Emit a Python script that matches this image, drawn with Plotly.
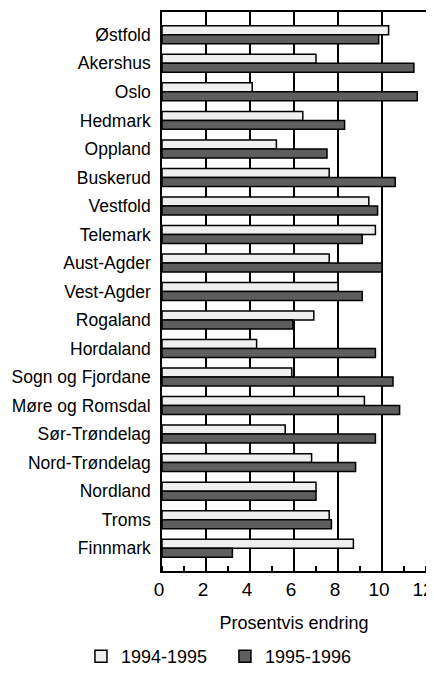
import plotly.graph_objects as go

fylker = ["Østfold", "Akershus", "Oslo", "Hedmark", "Oppland", "Buskerud", "Vestfold",
          "Telemark", "Aust-Agder", "Vest-Agder", "Rogaland", "Hordaland", "Sogn og Fjordane",
          "Møre og Romsdal", "Sør-Trøndelag", "Nord-Trøndelag", "Nordland", "Troms", "Finnmark"]
endring_94_95 = [10.3, 7.0, 4.1, 6.4, 5.2, 7.6, 9.4, 9.7, 7.6, 8.0, 6.9, 4.3, 5.9,
                 9.2, 5.6, 6.8, 7.0, 7.6, 8.7]
endring_95_96 = [9.85, 11.45, 11.6, 8.3, 7.5, 10.6, 9.8, 9.1, 10.0, 9.1, 5.95, 9.7, 10.5,
                 10.8, 9.7, 8.8, 7.0, 7.7, 3.2]
serie_navn = ["1994-1995", "1995-1996"]
x_ticks = [0, 2, 4, 6, 8, 10, 12]

FONT = "Liberation Sans, Arial, sans-serif"

fig = go.Figure()
fig.add_trace(go.Bar(y=fylker, x=endring_94_95, orientation="h", name=serie_navn[0],
                     marker=dict(color="#efefef", line=dict(color="black", width=1.5))))
fig.add_trace(go.Bar(y=fylker, x=endring_95_96, orientation="h", name=serie_navn[1],
                     marker=dict(color="#5e5e5e", line=dict(color="black", width=1.5))))

# page body has an 8px default margin, so the figure is sized to fit the 434x675 window
fig.update_layout(
    width=426, height=659,
    margin=dict(l=154, r=8, t=4, b=96, autoexpand=False),
    paper_bgcolor="white", plot_bgcolor="white",
    barmode="group", bargap=0.37, bargroupgap=0,
    font=dict(family=FONT, size=18, color="black"),
    showlegend=True,
    legend=dict(orientation="h", x=-0.307, xanchor="left", y=-0.12, yanchor="top",
                traceorder="normal", font=dict(size=18),
                entrywidth=99, entrywidthmode="pixels",
                bgcolor="rgba(0,0,0,0)"),
)
fig.update_xaxes(
    range=[0, 12], tickvals=x_ticks, ticktext=[str(v) for v in x_ticks],
    showgrid=True, gridcolor="black", gridwidth=1.5, zeroline=False,
    showline=True, mirror=True, linecolor="black", linewidth=1.5,
    ticks="", tickfont=dict(size=19), automargin=False, ticklabeloverflow="allow",
    ticklabelshift=-3,
    minor=dict(dtick=1, ticks="inside", ticklen=5, tickcolor="black", tickwidth=1.5, showgrid=False),
    title=dict(text="Prosentvis endring", font=dict(size=18), standoff=18),
)
fig.update_yaxes(
    type="category", categoryorder="array", categoryarray=fylker,
    range=[18.8, -0.8], showgrid=False, zeroline=False, automargin=False,
    showline=True, mirror=True, linecolor="black", linewidth=1.5,
    ticks="", ticklabelstandoff=6, tickfont=dict(size=17.5),
)

fig.write_html("out.html")
